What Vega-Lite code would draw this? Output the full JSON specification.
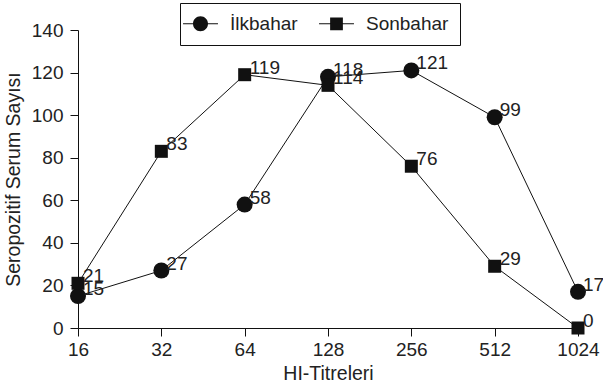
{
  "$schema": "https://vega.github.io/schema/vega-lite/v6.json",
  "width": 500,
  "height": 298,
  "autosize": {"type": "none"},
  "padding": {"left": 78, "top": 30, "right": 25, "bottom": 63},
  "background": "white",
  "config": {
    "view": {"stroke": null},
    "font": "Liberation Sans",
    "axis": {
      "grid": false,
      "domainColor": "#111",
      "tickColor": "#111",
      "labelColor": "#222",
      "titleColor": "#222",
      "labelFontSize": 19,
      "titleFontSize": 19.5,
      "titleFontWeight": "normal",
      "tickSize": 8
    },
    "legend": {"symbolOpacity": 1}
  },
  "data": {
    "values": [
      {"titre": 16, "season": "İlkbahar", "value": 15},
      {"titre": 32, "season": "İlkbahar", "value": 27},
      {"titre": 64, "season": "İlkbahar", "value": 58},
      {"titre": 128, "season": "İlkbahar", "value": 118},
      {"titre": 256, "season": "İlkbahar", "value": 121},
      {"titre": 512, "season": "İlkbahar", "value": 99},
      {"titre": 1024, "season": "İlkbahar", "value": 17},
      {"titre": 16, "season": "Sonbahar", "value": 21},
      {"titre": 32, "season": "Sonbahar", "value": 83},
      {"titre": 64, "season": "Sonbahar", "value": 119},
      {"titre": 128, "season": "Sonbahar", "value": 114},
      {"titre": 256, "season": "Sonbahar", "value": 76},
      {"titre": 512, "season": "Sonbahar", "value": 29},
      {"titre": 1024, "season": "Sonbahar", "value": 0}
    ]
  },
  "encoding": {
    "x": {
      "field": "titre",
      "type": "ordinal",
      "scale": {"type": "point", "padding": 0},
      "axis": {"title": "HI-Titreleri", "labelAngle": 0, "labelPadding": 4, "titlePadding": 5}
    },
    "y": {
      "field": "value",
      "type": "quantitative",
      "scale": {"domain": [0, 140]},
      "axis": {"title": "Seropozitif Serum Sayısı", "values": [0, 20, 40, 60, 80, 100, 120, 140], "labelPadding": 7, "titlePadding": 8}
    }
  },
  "layer": [
    {
      "mark": {"type": "line", "color": "#111", "strokeWidth": 1},
      "encoding": {"detail": {"field": "season"}}
    },
    {
      "transform": [{"filter": "datum.season === 'İlkbahar'"}],
      "mark": {"type": "point", "filled": true, "color": "#111", "opacity": 1, "shape": "circle", "size": 256}
    },
    {
      "transform": [{"filter": "datum.season === 'Sonbahar'"}],
      "mark": {"type": "point", "filled": true, "color": "#111", "opacity": 1, "shape": "square", "size": 169}
    },
    {
      "mark": {"type": "point", "filled": true, "color": "#111", "opacity": 0},
      "encoding": {
        "shape": {
          "field": "season",
          "scale": {"domain": ["İlkbahar", "Sonbahar"], "range": ["M-2.33,-0.067L2.33,-0.067L2.33,0.067L-2.33,0.067Z M1,0A1,1 0 1,1 -1,0A1,1 0 1,1 1,0Z", "M-2.33,-0.067L2.33,-0.067L2.33,0.067L-2.33,0.067Z M-0.85,-0.85L0.85,-0.85L0.85,0.85L-0.85,0.85Z"]},
          "legend": {
            "title": null,
            "orient": "none",
            "legendX": 102,
            "legendY": -27,
            "direction": "horizontal",
            "strokeColor": "#111",
            "fillColor": "white",
            "padding": 11,
            "symbolSize": 225,
            "symbolFillColor": "#111",
            "symbolStrokeWidth": 0,
            "labelFontSize": 19,
            "labelColor": "#222",
            "labelOffset": 20,
            "columnPadding": 21
          }
        }
      }
    },
    {
      "mark": {"type": "text", "align": "left", "baseline": "middle", "dx": 5, "dy": -7, "fontSize": 19, "color": "#222"},
      "encoding": {"text": {"field": "value", "type": "quantitative"}}
    }
  ]
}
